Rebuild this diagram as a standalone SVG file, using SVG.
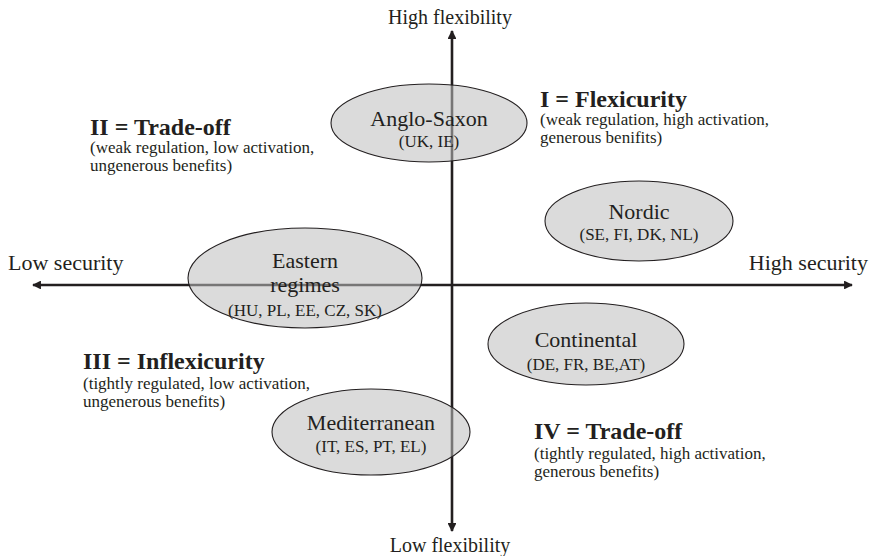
<svg xmlns="http://www.w3.org/2000/svg" width="873" height="556" viewBox="0 0 873 556">
<style>
text{font-family:"Liberation Serif","Times New Roman",serif;fill:#231f20}
.ax{font-size:22px}
.axv{font-size:20px}
.nm{font-size:22px;text-anchor:middle}
.cc{font-size:17px;text-anchor:middle}
.ttl{font-size:24px;font-weight:bold}
.sub{font-size:17px}
.el{fill:#bdbdbd;fill-opacity:0.55;stroke:#231f20;stroke-width:1.1}
.axis{stroke:#231f20;stroke-width:2.6;fill:none}
</style>
<defs>
<marker id="arr" viewBox="0 0 10 10" refX="9" refY="5" markerWidth="3.4" markerHeight="3.4" orient="auto" markerUnits="strokeWidth">
<path d="M0,0 L10,5 L0,10 z" fill="#231f20"/>
</marker>
</defs>
<rect width="873" height="556" fill="#fff"/>
<g id="connectors">
<line class="axis" x1="452" y1="286" x2="452" y2="31" marker-end="url(#arr)"/>
<line class="axis" x1="452" y1="286" x2="452" y2="531" marker-end="url(#arr)"/>
<line class="axis" x1="452" y1="285" x2="33" y2="285" marker-end="url(#arr)"/>
<line class="axis" x1="452" y1="285" x2="852" y2="285" marker-end="url(#arr)"/>
</g>
<g id="axis-labels">
<text class="axv" x="450" y="24" text-anchor="middle">High flexibility</text>
<text class="axv" x="450" y="552" text-anchor="middle">Low flexibility</text>
<text class="ax" x="8" y="270">Low security</text>
<text class="ax" x="868" y="270" text-anchor="end">High security</text>
</g>
<g id="node-anglo-saxon">
<ellipse class="el" cx="429" cy="123" rx="98" ry="39"/>
<text class="nm" x="429" y="126">Anglo-Saxon</text>
<text class="cc" x="429" y="147">(UK, IE)</text>
</g>
<g id="node-nordic">
<ellipse class="el" cx="639" cy="221" rx="94" ry="40"/>
<text class="nm" x="639" y="219">Nordic</text>
<text class="cc" x="639" y="240">(SE, FI, DK, NL)</text>
</g>
<g id="node-eastern">
<ellipse class="el" cx="305" cy="278" rx="117" ry="50"/>
<text class="nm" x="305" y="268">Eastern</text>
<text class="nm" x="305" y="292">regimes</text>
<text class="cc" x="305" y="316">(HU, PL, EE, CZ, SK)</text>
</g>
<g id="node-continental">
<ellipse class="el" cx="586" cy="344" rx="98" ry="41"/>
<text class="nm" x="586" y="347">Continental</text>
<text class="cc" x="586" y="370">(DE, FR, BE,AT)</text>
</g>
<g id="node-mediterranean">
<ellipse class="el" cx="371" cy="432" rx="99" ry="43"/>
<text class="nm" x="371" y="430">Mediterranean</text>
<text class="cc" x="371" y="452">(IT, ES, PT, EL)</text>
</g>
<g id="quadrant-I">
<text class="ttl" x="540" y="107">I = Flexicurity</text>
<text class="sub" x="540" y="125">(weak regulation, high activation,</text>
<text class="sub" x="540" y="143">generous benifits)</text>
</g>
<g id="quadrant-II">
<text class="ttl" x="90" y="135">II = Trade-off</text>
<text class="sub" x="90" y="153">(weak regulation, low activation,</text>
<text class="sub" x="90" y="171">ungenerous benefits)</text>
</g>
<g id="quadrant-III">
<text class="ttl" x="83" y="369">III = Inflexicurity</text>
<text class="sub" x="83" y="389">(tightly regulated, low activation,</text>
<text class="sub" x="83" y="407">ungenerous benefits)</text>
</g>
<g id="quadrant-IV">
<text class="ttl" x="534" y="439">IV = Trade-off</text>
<text class="sub" x="534" y="459">(tightly regulated, high activation,</text>
<text class="sub" x="534" y="477">generous benefits)</text>
</g>
</svg>
